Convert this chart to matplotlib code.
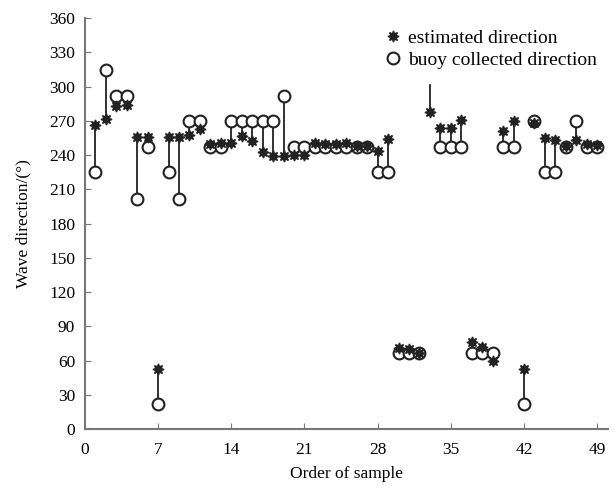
import matplotlib.pyplot as plt

plt.rcParams["font.family"] = ["Liberation Serif", "DejaVu Serif"]

sample = list(range(1, 50))

estimated = [266, 272, 283, 284, 256, 256, 53, 256, 256, 258,
             263, 250, 251, 251, 257, 252, 243, 239, 239, 240,
             240, 251, 250, 250, 251, 248, 248, 244, 254, 71,
             70, 67, 278, 264, 264, 271, 76, 72, 60, 261,
             270, 53, 268, 255, 253, 248, 253, 250, 249]

buoy = [225, 315, 292, 292, 202, 247, 22, 225, 202, 270,
        270, 247, 247, 270, 270, 270, 270, 270, 292, 247,
        247, 247, 247, 247, 247, 247, 247, 225, 225, 67,
        67, 67, 315, 247, 247, 247, 67, 67, 67, 247,
        247, 22, 270, 225, 225, 247, 270, 247, 247]

x_ticks = list(range(0, 50, 7))
y_ticks = list(range(0, 361, 30))

fig = plt.figure(figsize=(6.15, 4.91), dpi=100)
ax = fig.add_axes([0.138, 0.126, 0.85, 0.837])

ax.vlines(sample, estimated, buoy, colors="#222222", linewidth=1.3, zorder=1)
ax.plot(sample, buoy, linestyle="none", marker="o", markersize=8.5,
        markerfacecolor="white", markeredgecolor="#222222", markeredgewidth=1.5,
        label="buoy collected direction", zorder=2)
ax.plot(sample, estimated, linestyle="none", marker=(8, 1, 0), markersize=8,
        color="#222222", label="estimated direction", zorder=3)

# legend box is opaque and sits over the top of the plot
handles, labels = ax.get_legend_handles_labels()
leg = ax.legend(handles[::-1], labels[::-1], loc="upper right",
                bbox_to_anchor=(1.025, 1.03), fontsize=14, frameon=True,
                framealpha=1, fancybox=False,
                handletextpad=0.2, borderpad=0.7, labelspacing=0.25,
                handlelength=1.2)
leg.get_frame().set_facecolor("white")
leg.get_frame().set_edgecolor("white")
leg.set_zorder(5)

ax.set_xlim(0, 50)
ax.set_ylim(0, 360)
ax.set_xticks(x_ticks)
ax.set_yticks(y_ticks)
ax.tick_params(direction="in", length=4, color="#777777", labelsize=12.5)
ax.tick_params(axis="x", pad=9)
ax.tick_params(axis="y", pad=7)

for side in ["top", "right"]:
    ax.spines[side].set_visible(False)
for side in ["left", "bottom"]:
    ax.spines[side].set_color("#777777")
    ax.spines[side].set_linewidth(1.5)

ax.set_xlabel("Order of sample", fontsize=12.5, labelpad=6)
ax.set_ylabel("Wave direction/(°)", fontsize=12.5, labelpad=13)

fig.savefig("out.png", dpi=100)
